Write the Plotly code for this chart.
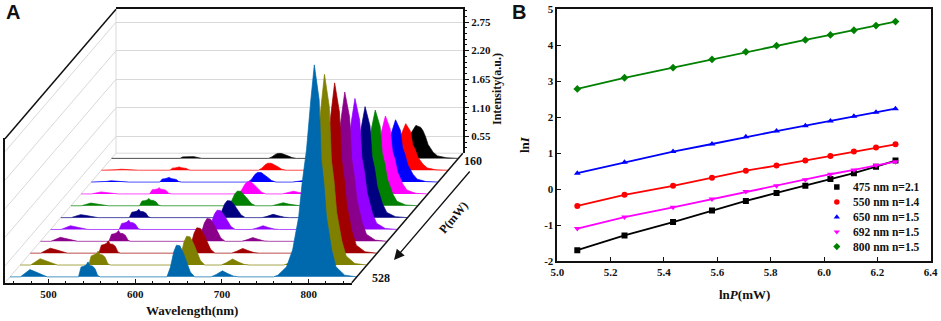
import plotly.graph_objects as go

W, H = 941, 321
SERIF = "Liberation Serif"

# ---------- Panel A data ----------
wavelengths = [450, 462,
               467, 473, 478, 483, 488, 493,
               529, 532, 535, 538, 540, 542, 545, 548, 551, 554,
               631, 635, 639, 642, 646, 650, 654, 658, 663,
               682, 688, 695, 701, 708, 714,
               754, 759, 769, 776, 783, 787, 792, 797, 801, 806.6, 809, 812, 815, 821, 826, 836, 850]

# relative emission intensity at each pump power, front (528 mW) to back (160 mW)
I_528 = [0, 0, 3.3, 7.3, 5.5, 3.3, 1.8, 0, 0, 9.8, 10.5, 12, 15, 11.3, 10.8, 8.3, 1.5, 0, 0, 9.5, 25.4, 31.7, 31, 23.8, 14.3, 4.8, 0, 0, 2.4, 6, 3.3, .7, 0, 0, 1.7, 10, 27, 60, 94, 127, 177, 212, 177, 117, 94, 60, 27, 10, 1.7, 0]
I_491 = [0, 0, 2.8, 6.3, 4.7, 2.8, 1.6, 0, 0, 9.1, 9.8, 11.2, 14, 10.5, 10.1, 7.7, 1.4, 0, 0, 8.6, 23, 28.7, 28.1, 21.5, 12.9, 4.3, 0, 0, 2.4, 6, 3.3, .7, 0, 0, 1.5, 9, 24, 53, 84, 114, 158, 190.7, 158, 105, 84, 53, 24, 9, 1.5, 0]
I_454 = [0, 0, 2.3, 5, 3.8, 2.3, 1.3, 0, 0, 8, 8.6, 9.8, 12.3, 9.2, 8.9, 6.8, 1.2, 0, 0, 7.6, 20.2, 25.3, 24.8, 19, 11.4, 3.8, 0, 0, 1.9, 4.7, 2.6, .6, 0, 0, 1.4, 8, 21.6, 47.7, 75, 102, 141, 170.3, 141, 94, 75, 47.7, 21.6, 8, 1.4, 0]
I_417 = [0, 0, 1.8, 4, 3, 1.8, 1, 0, 0, 7, 7.5, 8.6, 10.7, 8, 7.7, 5.9, 1.1, 0, 0, 6.8, 18.2, 22.7, 22.2, 17, 10.2, 3.4, 0, 0, 1.5, 3.7, 2, .4, 0, 0, 1.2, 7, 19, 41.8, 65.7, 89.6, 124, 149.3, 124, 82, 65.7, 41.8, 19, 7, 1.2, 0]
I_380 = [0, 0, 1.7, 3.7, 2.8, 1.7, .9, 0, 0, 6, 6.5, 7.4, 9.3, 7, 6.7, 5.1, .9, 0, 0, 5.8, 15.4, 19.3, 18.9, 14.5, 8.7, 2.9, 0, 0, 1.5, 3.7, 2, .4, 0, 0, 1, 6.2, 16.6, 36.7, 57.6, 78.6, 108.7, 131, 108.7, 72, 57.6, 36.7, 16.6, 6.2, 1, 0]
I_344 = [0, 0, 1.4, 3, 2.3, 1.4, .8, 0, 0, 5.4, 5.8, 6.6, 8.3, 6.2, 6, 4.6, .8, 0, 0, 5.1, 13.6, 17, 16.7, 12.8, 7.7, 2.6, 0, 0, 1.3, 3.3, 1.8, .4, 0, 0, .9, 5.2, 14, 31, 48.8, 66.6, 92, 111, 92, 61, 48.8, 31, 14, 5.2, .9, 0]
I_307 = [0, 0, 1.2, 2.7, 2, 1.2, .7, 0, 0, 4.7, 5.1, 5.8, 7.3, 5.5, 5.3, 4, .7, 0, 0, 4.4, 11.8, 14.7, 14.4, 11, 6.6, 2.2, 0, 0, 1.2, 3, 1.7, .4, 0, 0, .8, 4.5, 12.2, 26.8, 42, 57.4, 79.4, 95.7, 79.4, 52.6, 42, 26.8, 12.2, 4.5, .8, 0]
I_270 = [0, 0, .9, 2, 1.5, .9, .5, 0, 0, 4.1, 4.4, 5, 6.3, 4.7, 4.5, 3.5, .6, 0, 0, 3.7, 9.8, 12.3, 12.1, 9.2, 5.5, 1.8, 0, 0, 1.1, 2.7, 1.5, .3, 0, 0, .6, 3.7, 9.9, 21.8, 34.3, 46.8, 64.7, 78, 64.7, 42.9, 34.3, 21.8, 9.9, 3.7, .6, 0]
I_233 = [0, 0, .6, 1.3, 1, .6, .3, 0, 0, 3.1, 3.3, 3.8, 4.7, 3.5, 3.4, 2.6, .5, 0, 0, 2.9, 7.8, 9.7, 9.5, 7.3, 4.4, 1.5, 0, 0, .6, 1.5, .8, .2, 0, 0, .5, 2.9, 7.9, 17.4, 27.4, 37.4, 51.7, 62.3, 51.7, 34.3, 27.4, 17.4, 7.9, 2.9, .5, 0]
I_196 = [0, 0, .5, 1, .8, .5, .3, 0, 0, 2.1, 2.3, 2.6, 3.3, 2.5, 2.4, 1.8, .3, 0, 0, 2.1, 5.6, 7, 6.9, 5.3, 3.2, 1, 0, 0, .4, 1, .6, .1, 0, 0, .4, 2.2, 5.9, 13, 20.5, 28, 38.7, 46.6, 38.7, 25.6, 20.5, 13, 5.9, 2.2, .4, 0]
I_160 = [0, 0, .3, .7, .5, .3, .2, 0, 0, 1.5, 1.6, 1.8, 2.3, 1.7, 1.7, 1.3, .2, 0, 0, 1.5, 4, 5, 4.9, 3.8, 2.3, .8, 0, 0, .3, .7, .4, .1, 0, 0, .3, 1.6, 4.2, 9.2, 14.5, 19.8, 27.4, 33, 31, 28, 22, 14, 6, 2.5, .6, 0]

spectra = [I_160, I_196, I_233, I_270, I_307, I_344, I_380, I_417, I_454, I_491, I_528]
spectra_colors = ["#000000", "#ff0000", "#0000ff", "#ff00ff", "#008000", "#000080",
                  "#9400ff", "#8b008b", "#a00000", "#808000", "#0068ad"]
intensity_ticks = [0.55, 1.10, 1.65, 2.20, 2.75]

# ---------- Panel B data ----------
lnP = [5.075, 5.252, 5.434, 5.580, 5.707, 5.822, 5.930, 6.024, 6.112, 6.195, 6.268]
ln_475 = [-1.70, -1.29, -0.92, -0.60, -0.33, -0.11, 0.09, 0.28, 0.44, 0.62, 0.79]
ln_550 = [-0.47, -0.16, 0.09, 0.31, 0.51, 0.65, 0.79, 0.92, 1.04, 1.15, 1.24]
ln_650 = [0.44, 0.74, 1.04, 1.25, 1.45, 1.61, 1.76, 1.89, 2.02, 2.13, 2.23]
ln_692 = [-1.10, -0.78, -0.51, -0.28, -0.07, 0.09, 0.26, 0.41, 0.53, 0.66, 0.76]
ln_800 = [2.78, 3.09, 3.37, 3.60, 3.81, 3.98, 4.14, 4.28, 4.41, 4.54, 4.65]
series_B = [("475 nm  n=2.1", ln_475, "#000000", "square"),
            ("550 nm  n=1.4", ln_550, "#ff0000", "circle"),
            ("650 nm  n=1.5", ln_650, "#0000ff", "triangle-up"),
            ("692 nm  n=1.5", ln_692, "#ff00ff", "triangle-down"),
            ("800 nm  n=1.5", ln_800, "#008000", "diamond")]

# ---------- Oblique projection of panel A ----------
PX_PER_NM = 0.867
DEPTH_DX, DEPTH_DY = 111.0, 129.5   # px shift from front to back wall
FRONT_X, FRONT_Y = 5.0, 282.7       # px of (450 nm, floor, front)
WALL_PX_PER_AU = 51.9
WALL_BOTTOM_AU = 0.226


def proj(wl, depth, h):
    return wl + depth * DEPTH_DX / PX_PER_NM, h + depth * DEPTH_DY


def dx(px0, px1):
    return [px0 / W, px1 / W]


def dy(top, bottom):
    return [1 - bottom / H, 1 - top / H]


fig = go.Figure()
OV = dict(xaxis="x3", yaxis="y3", hoverinfo="skip", showlegend=False)
GRID = "#d9d9d9"

# left wall slanted grid lines and back wall edges
for v in intensity_ticks:
    h = (v - WALL_BOTTOM_AU) * WALL_PX_PER_AU
    a, b = proj(450, 0, h), proj(450, 1, h)
    fig.add_trace(go.Scatter(x=[a[0], b[0]], y=[a[1], b[1]], mode="lines", line=dict(color=GRID, width=1), **OV))
top_h = (3.0 - WALL_BOTTOM_AU) * WALL_PX_PER_AU
p0, p1, p2 = proj(450, 0, 0), proj(450, 1, 0), proj(850, 1, 0)
p3 = proj(450, 1, top_h)
fig.add_trace(go.Scatter(x=[p0[0], p1[0], p2[0]], y=[p0[1], p1[1], p2[1]], mode="lines", line=dict(color=GRID, width=1), **OV))
fig.add_trace(go.Scatter(x=[p1[0], p3[0]], y=[p1[1], p3[1]], mode="lines", line=dict(color=GRID, width=1), **OV))

# spectra, back to front
for k, (vals, col) in enumerate(zip(spectra, spectra_colors)):
    depth = 0.96 - 0.0915 * k
    xs = [proj(w, depth, v)[0] for w, v in zip(wavelengths, vals)]
    ys = [proj(w, depth, v)[1] for w, v in zip(wavelengths, vals)]
    fig.add_trace(go.Scatter(x=xs, y=ys, mode="lines", fill="toself", fillcolor=col,
                             line=dict(color=col, width=0.7), **OV))

# black frame edges
f0, f1 = proj(850, 0, 0), proj(850, 1, 0)
fig.add_trace(go.Scatter(x=[f0[0], f1[0]], y=[f0[1], f1[1]], mode="lines", line=dict(color="#111", width=1.5), **OV))
t0, t1 = proj(450, 0, top_h), proj(450, 1, top_h)
fig.add_trace(go.Scatter(x=[t0[0], t1[0]], y=[t0[1], t1[1]], mode="lines", line=dict(color="#111", width=1.5), **OV))

# traces that bring the wall axes and the front axes into existence
fig.add_trace(go.Scatter(x=[450], y=[1], xaxis="x2", yaxis="y2", mode="markers", marker=dict(opacity=0), hoverinfo="skip", showlegend=False))
fig.add_trace(go.Scatter(x=[450], y=[0], xaxis="x4", yaxis="y4", mode="markers", marker=dict(opacity=0), hoverinfo="skip", showlegend=False))

# Panel B
for name, vals, col, sym in series_B:
    fig.add_trace(go.Scatter(x=lnP, y=vals, mode="lines+markers", name=name, showlegend=False,
                             line=dict(color=col, width=1.8),
                             marker=dict(color=col, symbol=sym, size=6)))
legend_x = 6.048
legend_y = [0.055, -0.36, -0.78, -1.19, -1.60]
for (name, vals, col, sym), ly in zip(series_B, legend_y):
    fig.add_trace(go.Scatter(x=[legend_x], y=[ly], mode="markers", showlegend=False, hoverinfo="skip",
                             marker=dict(color=col, symbol=sym, size=5.5)))

tf = dict(family=SERIF, size=11, color="#111")
axis_line = dict(showline=True, linecolor="#111", linewidth=1.5, showgrid=False, zeroline=False)
fig.update_layout(
    template="none",
    width=W, height=H, margin=dict(l=0, r=0, t=0, b=0, pad=0), autosize=False,
    plot_bgcolor="rgba(0,0,0,0)", paper_bgcolor="white", showlegend=False,
    font=dict(family=SERIF, color="#111"),
    # Panel B
    xaxis=dict(domain=dx(557.3, 930.7), range=[5.0, 6.4], anchor="y", tickvals=[5.0, 5.2, 5.4, 5.6, 5.8, 6.0, 6.2, 6.4],
               ticktext=["<b>%.1f</b>" % v for v in [5.0, 5.2, 5.4, 5.6, 5.8, 6.0, 6.2, 6.4]],
               ticks="inside", ticklen=4, tickwidth=1.2, tickcolor="#111", mirror=True, tickfont=tf, **axis_line),
    yaxis=dict(domain=dy(9, 261), range=[-2, 5], anchor="x", tickvals=list(range(-2, 6)),
               ticktext=["<b>%d</b>" % v for v in range(-2, 6)],
               ticks="inside", ticklen=4, tickwidth=1.2, tickcolor="#111", mirror=True, tickfont=tf, **axis_line),
    # Panel A back wall
    xaxis2=dict(domain=dx(116, 463.3), range=[450, 850], anchor="y2", side="top", showticklabels=False, ticks="", **axis_line),
    yaxis2=dict(domain=dy(9, 153.2), range=[WALL_BOTTOM_AU, 3.0], anchor="x2", side="right",
                tickvals=intensity_ticks, ticktext=["<b>%.2f</b>" % v for v in intensity_ticks],
                ticks="outside", ticklen=4, tickwidth=1.2, tickcolor="#111", tickfont=tf,
                minor=dict(ticks="outside", ticklen=2, tickwidth=1, tickcolor="#111", dtick=0.11, tick0=0),
                showline=True, linecolor="#111", linewidth=1.5, showgrid=True, gridcolor=GRID, gridwidth=1, zeroline=False),
    # Panel A drawing plane
    xaxis3=dict(domain=[0, 1], range=[450 - 5 / PX_PER_NM, 450 + (W - 5) / PX_PER_NM], anchor="y3", visible=False),
    yaxis3=dict(domain=[0, 1], range=[FRONT_Y - H, FRONT_Y], anchor="x3", visible=False),
    # Panel A front axes
    xaxis4=dict(domain=dx(5, 352), range=[450, 850], anchor="y4", tickvals=[500, 600, 700, 800],
                ticktext=["<b>%d</b>" % v for v in [500, 600, 700, 800]],
                ticks="inside", ticklen=4, tickwidth=1.2, tickcolor="#111", tickfont=tf,
                minor=dict(ticks="inside", ticklen=2, tickwidth=1, tickcolor="#111", dtick=20, tick0=0), **axis_line),
    yaxis4=dict(domain=dy(137.5, 282.7), range=[0, 1], anchor="x4", showticklabels=False, ticks="", **axis_line),
)


def note(text, x, y, size=12, angle=0, anchor="center", fam=SERIF, **kw):
    fig.add_annotation(text=text, x=x / W, y=1 - y / H, xref="paper", yref="paper", showarrow=False,
                       font=dict(family=fam, size=size, color="#111"), textangle=angle, xanchor=anchor, yanchor="middle", **kw)


note("<b>A</b>", 13, 12, size=20, fam="Liberation Sans")
note("<b>B</b>", 519, 12, size=20, fam="Liberation Sans")
note("<b>Wavelength(nm)</b>", 192, 310, size=13)
note("<b>Intensity(a.u.)</b>", 497, 89, size=12, angle=-90)
note("<b>160</b>", 473, 161, size=12)
note("<b>528</b>", 381, 278, size=12)
note("<b>P(mW)</b>", 453, 218, size=12, angle=-50)
note("<b>ln<i>I</i></b>", 525, 145, size=13, angle=-90)
note("<b>ln<i>P</i>(mW)</b>", 744, 294, size=13)
for (name, vals, col, sym), ly in zip(series_B, legend_y):
    fig.add_annotation(text="<b>%s</b>" % name.replace("  ", " "), x=851 / W, y=1 - (189 - 36 * ly) / H, xref="paper", yref="paper",
                       showarrow=False, xanchor="left", yanchor="middle", font=dict(family=SERIF, size=11.5, color="#111"))

# P(mW) arrow
fig.add_annotation(x=394 / W, y=1 - 260 / H, ax=77, ay=-90, xref="paper", yref="paper",
                   axref="pixel", ayref="pixel", text="", showarrow=True, arrowhead=2, arrowsize=1.6, arrowwidth=1.3, arrowcolor="#111")

fig.write_html("out.html", config={"displayModeBar": False},
               post_script="document.body.style.margin='0';document.body.style.overflow='hidden';")
